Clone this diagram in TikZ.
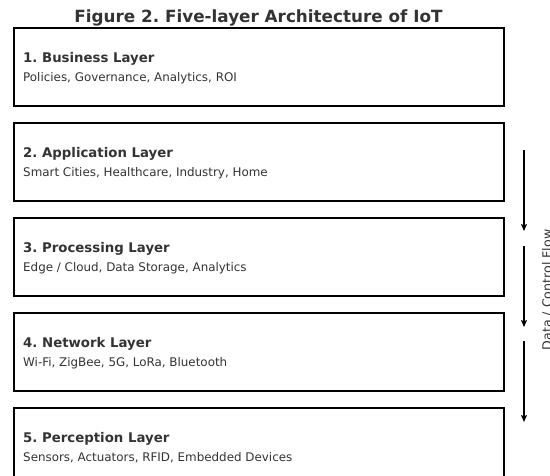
\documentclass[tikz,border=0pt]{standalone}
\usepackage{fontspec}
\setmainfont{DejaVu Sans}
\usetikzlibrary{arrows.meta}
\definecolor{txt}{HTML}{333333}
\tikzset{
  layer/.style={draw=black, line width=1.8pt, minimum width=490pt, minimum height=78pt, inner sep=0pt, anchor=north west},
  ltitle/.style={anchor=base west, inner sep=0pt, text=txt, font=\fontsize{13.3}{15}\selectfont\bfseries},
  lsub/.style={anchor=base west, inner sep=0pt, text=txt, font=\fontsize{11.9}{14}\selectfont},
  flow/.style={line width=1.3pt, -{Stealth[length=7pt,width=6pt,inset=1.5pt]}, draw=black}
}
\begin{document}
\frenchspacing
\begin{tikzpicture}[x=1pt,y=-1pt]
\useasboundingbox (0,0) rectangle (550,475);
\clip (0,0) rectangle (550,475);
\node[anchor=base, inner sep=0pt, text=txt, font=\fontsize{16.8}{19}\selectfont\bfseries] (fig) at (258.5,22.5) {Figure 2. Five-layer Architecture of IoT};
\node[layer] (b1) at (13,27) {};
\node[layer] (b2) at (13,122) {};
\node[layer] (b3) at (13,217) {};
\node[layer] (b4) at (13,312) {};
\node[layer, minimum height=100pt] (b5) at (13,407) {};
\node[ltitle] (t1) at (23,62.3) {1. Business Layer};
\node[lsub] (s1) at (23,81.7) {Policies, Governance, Analytics, ROI};
\node[ltitle] (t2) at (23,157.3) {2. Application Layer};
\node[lsub] (s2) at (23,176.7) {Smart Cities, Healthcare, Industry, Home};
\node[ltitle] (t3) at (23,252.3) {3. Processing Layer};
\node[lsub] (s3) at (23,271.7) {Edge / Cloud, Data Storage, Analytics};
\node[ltitle] (t4) at (23,347.3) {4. Network Layer};
\node[lsub] (s4) at (23,366.7) {Wi-Fi, ZigBee, 5G, LoRa, Bluetooth};
\node[ltitle] (t5) at (23,442.3) {5. Perception Layer};
\node[lsub] (s5) at (23,461.7) {Sensors, Actuators, RFID, Embedded Devices};
\coordinate (a1s) at (524,150); \coordinate (a1e) at (524,231);
\coordinate (a2s) at (524,246); \coordinate (a2e) at (524,327);
\coordinate (a3s) at (524,341); \coordinate (a3e) at (524,422);
\draw[flow] (a1s) -- (a1e);
\draw[flow] (a2s) -- (a2e);
\draw[flow] (a3s) -- (a3e);
\node[rotate=90, anchor=base, inner sep=0pt, text=txt, font=\fontsize{12.6}{15}\selectfont] (flowlbl) at (551.5,290) {Data / Control Flow};
\end{tikzpicture}
\end{document}
